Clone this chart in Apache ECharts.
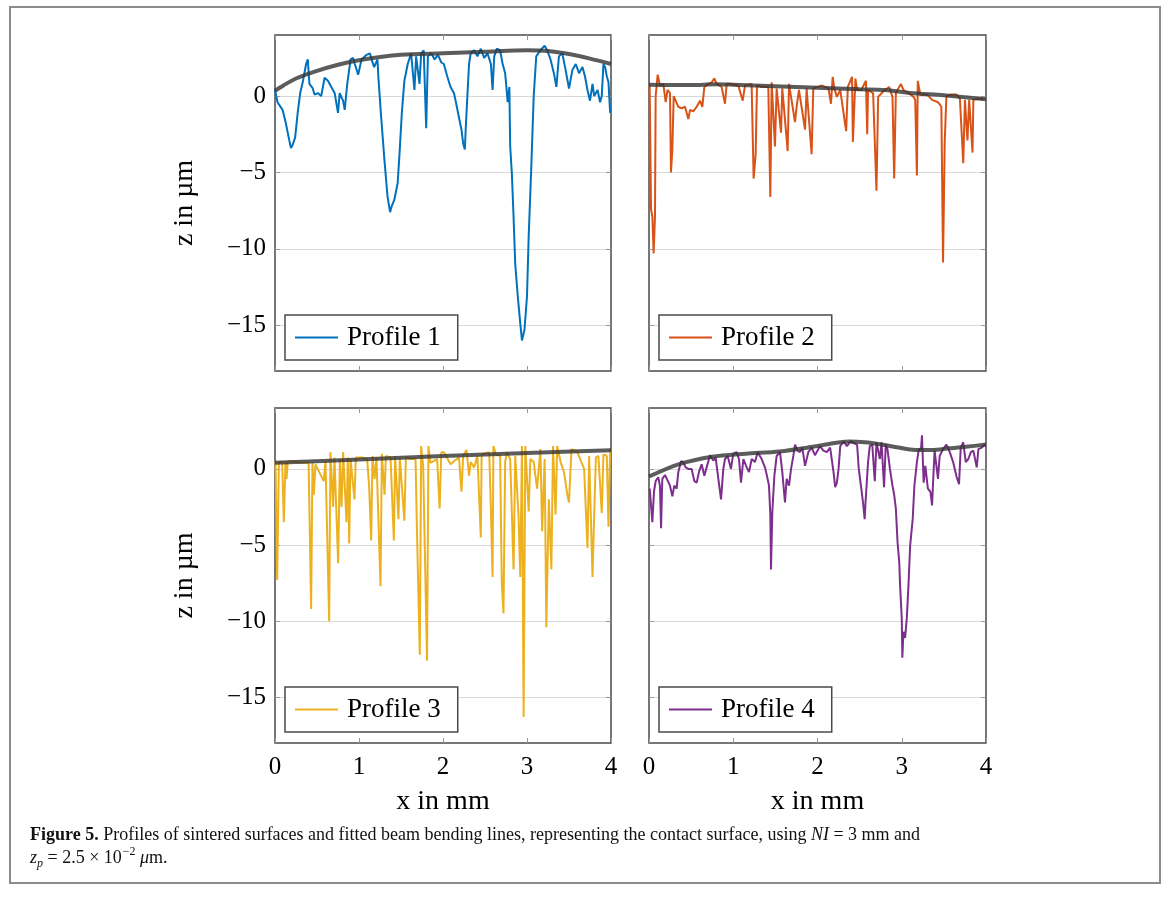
<!DOCTYPE html>
<html>
<head>
<meta charset="utf-8">
<title>Figure 5</title>
<script src="https://cdn.jsdelivr.net/npm/echarts@6.0.0/dist/echarts.min.js"></script>
<style>
  html, body { margin: 0; padding: 0; background: #fff; }
  #main { width: 1168px; height: 903px; }
</style>
</head>
<body>
<div id="main"></div>
<script>
// x ticks (mm) and z ticks (µm)
const xTicks = [0, 1, 2, 3, 4]
const zTicks = [-15, -10, -5, 0]
const names = ['Profile 1', 'Profile 2', 'Profile 3', 'Profile 4']
const colors = ['#0072BD', '#D95319', '#EDB120', '#7E2F8E']

// measured profiles [x in mm, z in µm]
const profile1 = [[0.00,0.4],[0.03,-0.4],[0.09,-0.9],[0.13,-1.8],[0.17,-2.9],[0.19,-3.4],[0.21,-3.2],[0.24,-2.7],[0.27,-1.1],[0.30,0.2],
  [0.33,0.9],[0.37,2.1],[0.39,2.4],[0.41,0.8],[0.45,0.5],[0.47,0.1],[0.51,0.2],[0.55,0.0],[0.59,1.2],[0.63,1.0],
  [0.67,0.6],[0.71,0.2],[0.75,-1.1],[0.77,0.2],[0.81,-0.3],[0.83,-0.9],[0.86,0.8],[0.90,2.4],[0.93,2.5],[0.95,2.1],
  [0.99,1.4],[1.03,2.4],[1.09,2.7],[1.13,2.8],[1.15,2.4],[1.18,1.9],[1.22,2.4],[1.23,1.3],[1.26,-1.1],[1.30,-4.0],
  [1.34,-6.6],[1.37,-7.6],[1.39,-7.2],[1.42,-6.8],[1.46,-5.7],[1.48,-4.0],[1.51,-1.1],[1.54,1.0],[1.58,2.1],[1.62,2.8],
  [1.66,0.4],[1.68,2.6],[1.72,0.8],[1.74,2.8],[1.77,3.0],[1.80,-2.1],[1.82,2.6],[1.86,2.8],[1.90,2.4],[1.94,2.7],
  [1.98,2.2],[2.01,2.1],[2.05,1.3],[2.09,0.6],[2.13,0.2],[2.15,-0.3],[2.19,-1.4],[2.22,-2.2],[2.24,-3.1],[2.26,-3.5],
  [2.27,-2.2],[2.29,0.0],[2.31,2.1],[2.33,2.8],[2.37,3.0],[2.41,2.6],[2.45,3.1],[2.49,2.5],[2.53,2.8],[2.57,2.1],
  [2.59,0.4],[2.61,2.6],[2.64,3.1],[2.68,3.0],[2.71,2.1],[2.74,1.5],[2.77,-0.4],[2.79,0.6],[2.80,-3.3],[2.82,-5.1],
  [2.84,-7.9],[2.86,-11.0],[2.89,-13.1],[2.92,-14.9],[2.94,-16.0],[2.955,-16.1],[2.97,-15.3],[3.00,-13.1],[3.02,-9.2],[3.05,-4.8],
  [3.08,0.0],[3.11,2.6],[3.16,3.0],[3.21,3.3],[3.24,3.0],[3.28,2.4],[3.32,1.5],[3.35,0.6],[3.38,2.6],[3.42,2.8],
  [3.46,1.7],[3.50,0.5],[3.54,1.7],[3.58,2.1],[3.62,1.5],[3.66,1.9],[3.69,1.3],[3.72,0.4],[3.75,-0.3],[3.78,0.8],
  [3.80,0.0],[3.84,0.4],[3.87,-0.4],[3.89,0.0],[3.91,2.1],[3.93,1.9],[3.95,1.3],[3.97,0.9],[3.99,-1.1]]

const profile2 = [[0.008,0.7],[0.024,-7.4],[0.04,-7.9],[0.055,-10.3],[0.071,-7.9],[0.079,0.0],[0.103,1.4],[0.13,0.7],[0.17,0.8],[0.198,-0.4],
  [0.22,0.4],[0.249,0.2],[0.261,-5.0],[0.277,-3.5],[0.293,0.0],[0.316,-0.3],[0.348,-0.7],[0.388,-0.8],[0.427,-0.7],[0.467,-1.5],
  [0.487,-0.9],[0.526,-1.0],[0.566,-0.7],[0.605,-0.3],[0.633,-0.7],[0.657,0.6],[0.704,0.8],[0.744,0.9],[0.775,1.15],[0.803,0.8],
  [0.862,0.6],[0.902,-0.5],[0.922,0.8],[0.981,0.78],[1.06,0.7],[1.112,-0.3],[1.14,0.7],[1.218,0.8],[1.242,-5.4],[1.266,-3.8],
  [1.282,0.7],[1.337,0.6],[1.416,0.6],[1.44,-6.6],[1.456,0.9],[1.495,-3.3],[1.515,0.5],[1.567,-2.4],[1.582,0.5],[1.646,-3.6],
  [1.662,0.8],[1.733,-1.7],[1.752,-0.7],[1.78,0.4],[1.852,-2.2],[1.871,0.5],[1.93,-3.8],[1.95,0.5],[2.05,0.7],[2.13,0.5],
  [2.16,-0.5],[2.18,1.26],[2.20,0.5],[2.23,-0.05],[2.27,0.4],[2.34,-2.3],[2.36,0.6],[2.41,1.26],[2.42,-3.0],[2.45,1.15],
  [2.47,0.4],[2.52,0.4],[2.575,1.0],[2.59,-2.5],[2.60,0.4],[2.66,0.2],[2.70,-6.2],[2.72,-0.05],[2.78,0.3],[2.85,0.6],
  [2.89,-0.05],[2.91,-5.4],[2.93,0.2],[2.99,0.8],[3.02,0.4],[3.08,0.2],[3.14,-0.05],[3.16,-0.25],[3.18,-5.2],[3.19,1.0],
  [3.22,0.1],[3.30,0.1],[3.36,-0.25],[3.43,-0.4],[3.47,-0.7],[3.49,-10.9],[3.51,-3.0],[3.53,0.0],[3.59,0.1],[3.65,0.1],
  [3.69,-0.15],[3.73,-4.4],[3.75,-0.25],[3.78,-2.9],[3.80,-0.25],[3.84,-3.7],[3.85,-0.25],[3.91,-0.15],[3.97,-0.2]]

const profile3 = [[0.006,0.5],[0.026,-7.3],[0.046,0.4],[0.085,0.5],[0.105,-3.5],[0.125,0.5],[0.137,-0.65],[0.153,0.5],[0.224,0.5],[0.30,0.4],
  [0.40,0.4],[0.43,-9.2],[0.446,0.4],[0.462,-1.7],[0.482,0.3],[0.58,-0.8],[0.601,0.5],[0.645,-10.0],[0.66,1.1],[0.692,-2.5],
  [0.708,0.75],[0.752,-6.2],[0.772,0.65],[0.792,-2.5],[0.811,1.1],[0.851,-3.5],[0.867,0.75],[0.883,-4.9],[0.899,0.65],[0.946,-2.0],
  [0.962,0.75],[1.038,0.75],[1.097,0.65],[1.121,-1.2],[1.145,-4.7],[1.16,0.85],[1.185,-0.65],[1.208,0.75],[1.256,-7.7],[1.272,1.0],
  [1.304,-1.7],[1.32,0.85],[1.375,0.75],[1.415,-4.7],[1.43,0.85],[1.47,-3.3],[1.486,0.75],[1.54,-3.4],[1.558,0.75],[1.613,0.65],
  [1.673,0.65],[1.69,-4.1],[1.724,-12.2],[1.74,1.5],[1.764,0.2],[1.81,-12.6],[1.827,1.5],[1.85,0.4],[1.93,0.65],[1.96,-2.6],
  [1.98,1.1],[2.01,1.1],[2.09,0.3],[2.13,0.5],[2.19,0.75],[2.22,-1.5],[2.24,0.85],[2.28,1.26],[2.31,-0.45],[2.33,0.45],
  [2.37,0.1],[2.41,0.85],[2.45,-4.5],[2.46,0.95],[2.55,1.1],[2.57,-2.6],[2.59,-7.1],[2.60,1.5],[2.63,0.95],[2.68,0.85],
  [2.70,-7.5],[2.72,-9.5],[2.74,0.45],[2.76,1.1],[2.80,0.65],[2.84,-6.6],[2.86,0.85],[2.90,-3.2],[2.92,-7.1],[2.94,1.5],
  [2.96,-16.3],[2.98,1.5],[3.00,1.6],[3.02,-2.8],[3.04,0.65],[3.08,0.45],[3.12,-1.3],[3.16,1.3],[3.18,-4.1],[3.21,0.65],
  [3.23,-10.4],[3.26,-2.0],[3.29,-6.6],[3.31,1.5],[3.34,-3.0],[3.36,1.5],[3.40,0.45],[3.44,-0.2],[3.48,-1.7],[3.50,-2.2],
  [3.53,1.3],[3.60,1.1],[3.64,0.55],[3.68,0.0],[3.72,-5.2],[3.74,0.85],[3.78,-7.1],[3.80,-3.0],[3.82,0.75],[3.85,0.85],
  [3.89,-2.9],[3.91,0.95],[3.95,0.85],[3.97,-3.8],[3.99,1.3]]

const profile4 = [[0.008,-1.3],[0.024,-2.4],[0.04,-3.5],[0.059,-1.5],[0.079,-0.8],[0.11,-0.55],[0.13,-1.1],[0.143,-3.9],[0.158,-0.65],[0.19,-0.4],
  [0.22,-0.75],[0.249,-1.1],[0.277,-1.8],[0.30,-1.1],[0.328,-1.3],[0.348,-0.2],[0.38,0.5],[0.407,0.45],[0.435,0.1],[0.467,0.0],
  [0.506,0.0],[0.538,-0.8],[0.566,-0.9],[0.593,-0.2],[0.625,0.3],[0.657,-0.45],[0.684,0.1],[0.724,0.9],[0.763,0.55],[0.791,0.75],
  [0.823,-0.65],[0.855,-2.0],[0.882,0.0],[0.902,0.65],[0.934,0.85],[0.973,0.0],[1.0,1.0],[1.04,1.1],[1.068,0.65],[1.092,-0.9],
  [1.12,0.65],[1.16,0.1],[1.187,-0.2],[1.219,0.65],[1.258,0.45],[1.29,1.1],[1.337,0.65],[1.377,0.1],[1.40,-0.45],[1.424,-1.1],
  [1.44,-3.0],[1.448,-6.6],[1.464,-2.8],[1.488,-0.45],[1.515,0.85],[1.555,1.1],[1.582,-0.2],[1.614,-2.2],[1.634,-0.65],[1.662,-1.1],
  [1.686,0.0],[1.713,0.85],[1.733,1.6],[1.765,1.2],[1.792,1.1],[1.82,1.4],[1.852,0.2],[1.891,1.1],[1.93,1.4],[1.97,0.9],
  [2.03,1.5],[2.07,1.2],[2.11,1.1],[2.15,1.4],[2.19,-0.2],[2.21,-1.2],[2.23,-0.9],[2.25,0.0],[2.27,1.5],[2.31,1.8],
  [2.35,1.5],[2.39,1.8],[2.43,1.7],[2.47,1.6],[2.49,0.0],[2.52,-1.3],[2.54,-2.2],[2.56,-3.3],[2.57,-2.2],[2.60,0.45],
  [2.62,1.5],[2.65,1.6],[2.68,-0.8],[2.70,1.75],[2.72,1.85],[2.74,0.65],[2.76,1.75],[2.79,-1.2],[2.81,1.6],[2.83,1.3],
  [2.86,0.0],[2.89,-1.1],[2.91,-1.7],[2.93,-2.6],[2.95,-4.8],[2.97,-6.1],[2.98,-7.6],[3.00,-9.8],[3.007,-12.4],[3.02,-10.7],
  [3.04,-11.1],[3.06,-9.8],[3.08,-7.6],[3.10,-5.0],[3.13,-3.3],[3.15,-1.1],[3.18,0.45],[3.20,1.2],[3.23,1.4],[3.24,2.2],
  [3.26,-0.9],[3.28,0.2],[3.31,-1.3],[3.34,-1.5],[3.36,-2.4],[3.37,-1.1],[3.39,1.2],[3.43,-0.65],[3.45,0.85],[3.49,1.3],
  [3.53,1.6],[3.57,1.1],[3.61,0.45],[3.65,-0.5],[3.68,-1.0],[3.70,1.4],[3.73,1.75],[3.76,0.45],[3.79,0.65],[3.82,1.1],
  [3.85,1.2],[3.89,0.1],[3.91,1.3],[3.95,1.4],[3.99,1.6]]

// fitted beam bending lines
const fit1 = [[0,0.35],[0.1,0.7],[0.25,1.15],[0.5,1.65],[0.75,2.05],[1,2.35],[1.5,2.7],[2,2.8],[2.5,2.9],[3,3.0],[3.25,2.95],[3.5,2.75],[3.75,2.45],[4,2.1]]
const fit2 = [[0,0.75],[0.5,0.72],[0.8,0.78],[1,0.75],[1.5,0.65],[2,0.55],[2.5,0.45],[2.8,0.4],[3.1,0.2],[3.5,0.05],[4,-0.2]]
const fit3 = [[0,0.4],[1,0.62],[2,0.85],[3,1.05],[4,1.22]]
const fit4 = [[0,-0.5],[0.35,0.3],[0.75,0.8],[1.15,1.0],[1.55,1.15],[2.0,1.5],[2.37,1.8],[2.56,1.75],[2.76,1.6],[2.96,1.4],[3.16,1.25],[3.36,1.25],[3.56,1.35],[3.76,1.45],[4.0,1.6]]

const profiles = [profile1, profile2, profile3, profile4]
const fits = [fit1, fit2, fit3, fit4]

const serif = '"Liberation Serif", "DejaVu Serif", serif'
const grids = [
  { left: 275, top: 35, width: 336, height: 336 },
  { left: 649, top: 35, width: 337, height: 336 },
  { left: 275, top: 408, width: 336, height: 335 },
  { left: 649, top: 408, width: 337, height: 335 },
]

const minus = v => String(v).replace('-', '\u2212')
const tickStyle = { inside: true, length: 5, lineStyle: { color: '#999' } }

let xAxes = []
let yAxes = []
let legends = []
let series = []
grids.forEach((g, i) => {
  g.show = true
  g.borderColor = '#4a4a4a'
  g.borderWidth = 1.5
  // bottom x axis
  xAxes.push({
    type: 'value', gridIndex: i, min: 0, max: 4, interval: 1, position: 'bottom',
    name: i >= 2 ? 'x in mm' : '', nameLocation: 'middle', nameGap: 45,
    nameTextStyle: { fontFamily: serif, fontSize: 28, color: '#000' },
    axisLine: { show: false, onZero: false },
    axisTick: tickStyle,
    axisLabel: { show: i >= 2, margin: 12, fontFamily: serif, fontSize: 25, color: '#000' },
    splitLine: { show: false },
  })
  // left y axis
  yAxes.push({
    type: 'value', gridIndex: i, min: -18, max: 4, position: 'left',
    name: i % 2 == 0 ? 'z in \u00b5m' : '', nameLocation: 'middle', nameGap: 76, nameRotate: 90,
    nameTextStyle: { fontFamily: serif, fontSize: 28, color: '#000' },
    axisLine: { show: false, onZero: false },
    axisTick: Object.assign({ customValues: zTicks }, tickStyle),
    axisLabel: { show: i % 2 == 0, margin: 9, customValues: zTicks, formatter: minus, fontFamily: serif, fontSize: 25, color: '#000' },
    splitLine: { show: true, lineStyle: { color: '#d9d9d9', width: 1 } },
  })
  legends.push({
    data: [names[i]],
    left: g.left + 10, top: g.top + g.height - 56,
    orient: 'vertical',
    backgroundColor: '#fff', borderColor: '#4a4a4a', borderWidth: 1.5, borderRadius: 0,
    padding: [9, 17, 9, 10],
    icon: 'rect', itemWidth: 43, itemHeight: 2,
    textStyle: { fontFamily: serif, fontSize: 27, color: '#000', padding: [0, 0, 0, 4] },
  })
  series.push({
    name: names[i], type: 'line', xAxisIndex: i, yAxisIndex: i,
    data: profiles[i], showSymbol: false, color: colors[i],
    lineStyle: { width: 2, color: colors[i] }, z: 2,
  })
  series.push({
    name: 'fit ' + (i + 1), type: 'line', xAxisIndex: i, yAxisIndex: i,
    data: fits[i], showSymbol: false, smooth: 0.3,
    lineStyle: { width: 4, color: '#333', opacity: 0.8 }, z: 3,
  })
})
// ticks on top and right edges
grids.forEach((g, i) => {
  xAxes.push({
    type: 'value', gridIndex: i, min: 0, max: 4, interval: 1, position: 'top',
    axisLine: { show: false, onZero: false }, axisLabel: { show: false }, splitLine: { show: false },
    axisTick: tickStyle,
  })
  yAxes.push({
    type: 'value', gridIndex: i, min: -18, max: 4, position: 'right',
    axisLine: { show: false, onZero: false }, axisLabel: { show: false }, splitLine: { show: false },
    axisTick: Object.assign({ customValues: zTicks }, tickStyle),
  })
})

const mycharts = echarts.init(document.getElementById('main'))
mycharts.setOption({
  animation: false,
  backgroundColor: '#fff',
  grid: grids,
  xAxis: xAxes,
  yAxis: yAxes,
  legend: legends,
  series: series,
  graphic: [
    {
      type: 'rect', silent: true,
      shape: { x: 10, y: 7, width: 1150, height: 876 },
      style: { fill: 'none', stroke: '#8c8c8c', lineWidth: 2 },
    },
    {
      type: 'text', left: 30, top: 826,
      style: {
        text: '{b|Figure 5.} Profiles of sintered surfaces and fitted beam bending lines, representing the contact surface, using {i|NI} = 3 mm and',
        font: '18px ' + serif, fill: '#111',
        rich: {
          b: { fontWeight: 'bold', fontSize: 18, fontFamily: serif },
          i: { fontStyle: 'italic', fontSize: 18, fontFamily: serif },
        },
      },
    },
    {
      type: 'text', left: 30, top: 846,
      style: {
        text: '{i|z}{sub|p} = 2.5 \u00d7 10{sup|\u22122} {i|\u03bc}m.',
        font: '18px ' + serif, fill: '#111', lineHeight: 24,
        rich: {
          i: { fontStyle: 'italic', fontSize: 18, fontFamily: serif, lineHeight: 24 },
          sub: { fontStyle: 'italic', fontSize: 12, fontFamily: serif, verticalAlign: 'bottom', lineHeight: 24, padding: [6, 0, 0, 0] },
          sup: { fontSize: 12, fontFamily: serif, verticalAlign: 'top', lineHeight: 24, padding: [0, 0, 8, 1] },
        },
      },
    },
  ],
})
</script>
</body>
</html>
